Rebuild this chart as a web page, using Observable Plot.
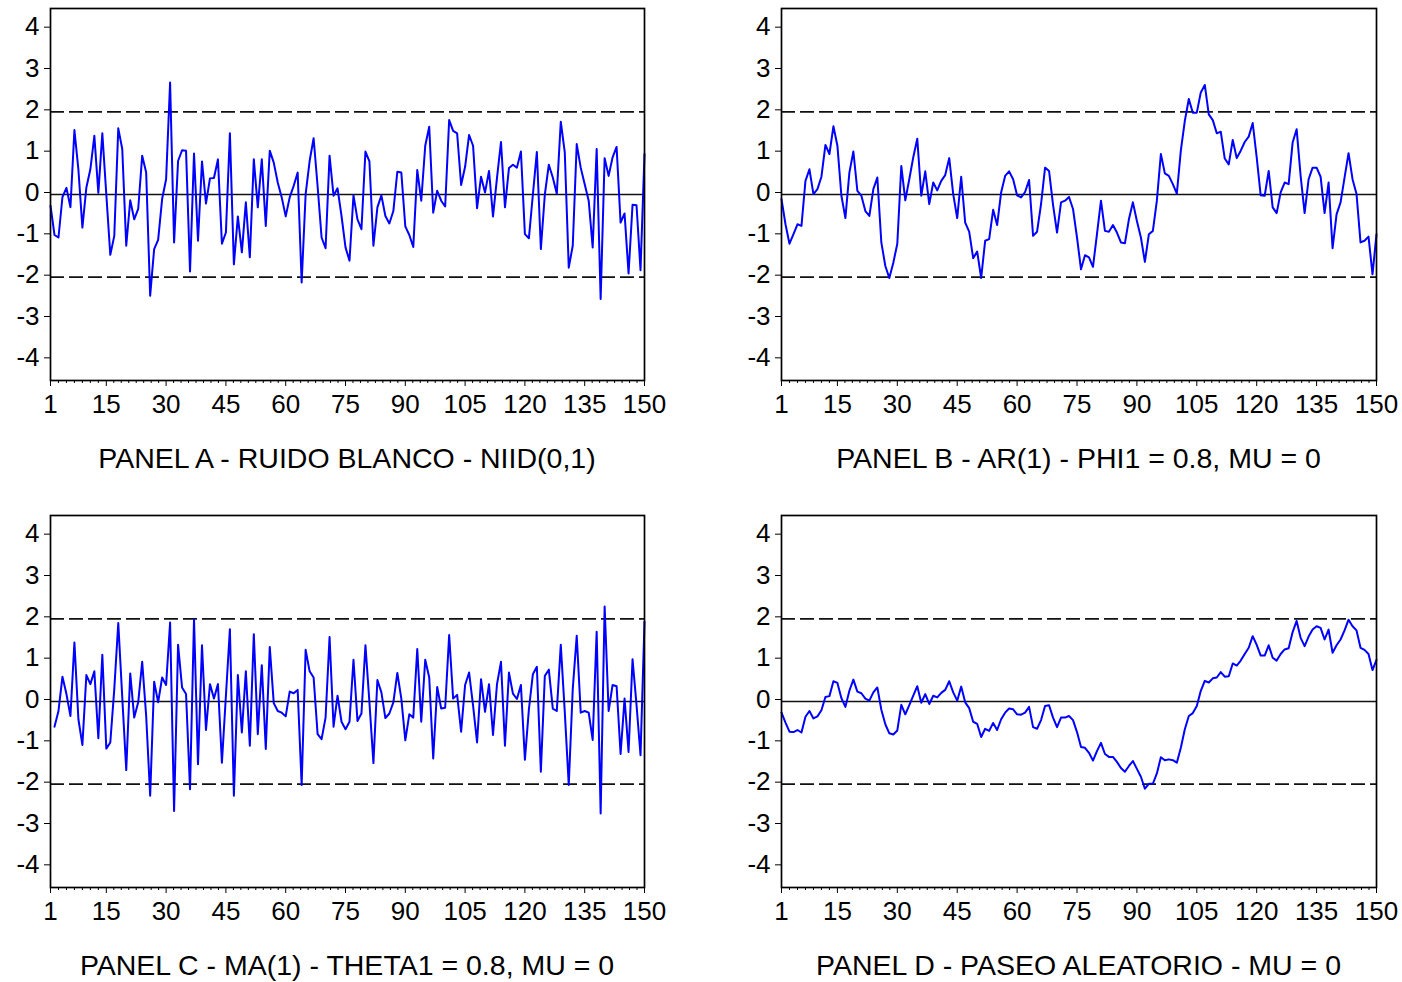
<!DOCTYPE html>
<html><head><meta charset="utf-8">
<script src="https://cdn.jsdelivr.net/npm/d3@7"></script>
<script src="https://cdn.jsdelivr.net/npm/@observablehq/plot@0.6"></script>
<style>
body{margin:0;background:#fff;}
#wrap{position:relative;width:1402px;height:982px;font-family:"Liberation Sans",Arial,sans-serif;background:#fff;}
.panel{position:absolute;}
.cap{position:absolute;text-align:center;font-size:28.5px;line-height:1;color:#000;white-space:nowrap;}
</style></head>
<body><div id="wrap"></div>
<script>
// ---- data ----
const titles = [
  "PANEL A - RUIDO BLANCO - NIID(0,1)",
  "PANEL B - AR(1) - PHI1 = 0.8, MU = 0",
  "PANEL C - MA(1) - THETA1 = 0.8, MU = 0",
  "PANEL D - PASEO ALEATORIO - MU = 0"
];
const xTicks = [1, 15, 30, 45, 60, 75, 90, 105, 120, 135, 150];
const yTicks = [-4, -3, -2, -1, 0, 1, 2, 3, 4];
const zeroLine = [0];
const bandLines = [-2, 2];

// Panel A, observations 1..150
const panelA = [
 -0.27,-0.98,-1.04,-0.06,0.16,-0.31,1.56,0.60,-0.80,0.17,
 0.61,1.42,0.04,1.48,0.00,-1.46,-1.00,1.60,1.10,-1.24,
 -0.14,-0.60,-0.35,0.94,0.53,-2.45,-1.32,-1.10,-0.11,0.37,
 2.71,-1.16,0.81,1.07,1.06,-1.86,0.99,-1.12,0.80,-0.22,
 0.39,0.40,0.85,-1.19,-0.92,1.48,-1.69,-0.53,-1.40,-0.19,
 -1.52,0.85,-0.31,0.85,-0.76,1.06,0.77,0.29,-0.07,-0.53,
 -0.07,0.21,0.53,-2.13,0.01,0.81,1.36,0.20,-1.04,-1.30,
 0.94,-0.03,0.15,-0.52,-1.28,-1.60,-0.02,-0.60,-0.84,1.04,
 0.80,-1.24,-0.31,-0.02,-0.52,-0.70,-0.40,0.55,0.53,-0.77,
 -0.98,-1.27,0.59,-0.15,1.18,1.64,-0.44,0.09,-0.15,-0.29,
 1.80,1.54,1.48,0.23,0.67,1.44,1.18,-0.33,0.43,0.05,
 0.57,-0.53,0.40,1.27,-0.31,0.64,0.72,0.65,1.04,-0.96,
 -1.06,0.00,1.03,-1.32,0.00,0.72,0.41,0.02,1.76,1.02,
 -1.77,-1.24,1.22,0.65,0.25,-0.15,-1.28,1.10,-2.53,0.88,
 0.45,0.90,1.15,-0.68,-0.46,-1.91,-0.25,-0.26,-1.83,0.98
];
// Panel B, observations 1..150
const panelB = [
 -0.11,-0.72,-1.19,-0.96,-0.72,-0.76,0.33,0.61,0.01,0.13,
 0.43,1.20,0.98,1.65,1.18,-0.03,-0.57,0.53,1.04,0.09,
 -0.03,-0.40,-0.52,0.13,0.41,-1.16,-1.73,-2.02,-1.65,-1.19,
 0.69,-0.14,0.37,0.90,1.35,-0.03,0.56,-0.23,0.29,0.10,
 0.33,0.47,0.88,0.01,-0.57,0.43,-0.68,-0.90,-1.54,-1.38,
 -2.02,-1.12,-1.08,-0.37,-0.74,0.05,0.45,0.56,0.37,-0.02,
 -0.07,0.06,0.35,-1.00,-0.90,-0.23,0.65,0.57,-0.25,-0.92,
 -0.19,-0.15,-0.06,-0.35,-1.04,-1.81,-1.47,-1.52,-1.75,-0.96,
 -0.15,-0.88,-0.90,-0.74,-0.92,-1.16,-1.18,-0.60,-0.19,-0.64,
 -1.04,-1.63,-0.96,-0.88,-0.15,0.98,0.51,0.45,0.25,0.02,
 1.06,1.78,2.31,1.98,1.98,2.47,2.65,1.94,1.80,1.48,
 1.52,0.87,0.73,1.32,0.88,1.06,1.27,1.40,1.73,0.90,
 -0.02,-0.03,0.57,-0.31,-0.45,0.05,0.29,0.25,1.26,1.58,
 0.45,-0.45,0.37,0.65,0.65,0.43,-0.45,0.29,-1.30,-0.48,
 -0.19,0.41,1.00,0.37,0.01,-1.16,-1.12,-1.02,-1.93,-0.96
];
// Panel C, observations 2..150 (observation 1 is missing)
const panelCFirstObs = 2;
const panelC = [
 -0.61,-0.23,0.60,0.18,-0.35,1.43,-0.43,-1.05,0.64,
 0.42,0.73,-0.89,1.13,-1.14,-0.99,0.30,1.90,0.10,-1.66,
 0.68,-0.39,-0.02,0.96,-0.35,-2.28,0.48,-0.02,0.58,0.40,
 1.91,-2.65,1.37,0.34,0.18,-2.12,1.99,-1.52,1.36,-0.69,
 0.42,0.07,0.42,-1.48,0.14,1.75,-2.28,0.64,-0.75,0.73,
 -1.07,1.63,-0.79,0.88,-1.15,1.32,-0.04,-0.23,-0.27,-0.36,
 0.24,0.20,0.28,-2.02,1.25,0.73,0.58,-0.79,-0.91,-0.39,
 1.56,-0.61,0.14,-0.49,-0.67,-0.49,1.01,-0.47,-0.29,1.36,
 -0.02,-1.49,0.52,0.22,-0.40,-0.29,-0.02,0.69,0.07,-0.94,
 -0.31,-0.39,1.27,-0.49,1.01,0.58,-1.38,0.35,-0.17,-0.15,
 1.61,0.07,0.16,-0.73,0.40,0.70,-0.10,-0.99,0.54,-0.25,
 0.42,-0.81,0.42,0.96,-1.07,0.70,0.19,0.06,0.40,-1.41,
 -0.19,0.66,0.84,-1.70,0.62,0.77,-0.17,-0.23,1.37,-0.25,
 -2.02,0.30,1.59,-0.27,-0.23,-0.27,-0.93,1.69,-2.71,2.30,
 -0.23,0.40,0.37,-1.27,0.07,-1.22,1.02,-0.08,-1.30,1.93
];
// Panel D, observations 1..150
const panelD = [
 -0.27,-0.51,-0.73,-0.74,-0.69,-0.75,-0.37,-0.23,-0.41,-0.36,
 -0.21,0.11,0.13,0.49,0.45,0.08,-0.13,0.26,0.53,0.24,
 0.20,0.07,0.02,0.22,0.34,-0.20,-0.55,-0.77,-0.80,-0.70,
 -0.08,-0.31,-0.09,0.14,0.37,-0.03,0.18,-0.06,0.14,0.10,
 0.21,0.28,0.49,0.22,0.02,0.36,-0.02,-0.16,-0.49,-0.54,
 -0.86,-0.66,-0.71,-0.52,-0.69,-0.43,-0.27,-0.17,-0.19,-0.31,
 -0.32,-0.27,-0.13,-0.62,-0.66,-0.45,-0.11,-0.09,-0.39,-0.62,
 -0.39,-0.39,-0.35,-0.45,-0.74,-1.10,-1.12,-1.24,-1.43,-1.20,
 -1.00,-1.27,-1.34,-1.34,-1.46,-1.61,-1.70,-1.56,-1.44,-1.63,
 -1.82,-2.11,-1.99,-1.99,-1.74,-1.35,-1.42,-1.40,-1.42,-1.48,
 -1.12,-0.67,-0.35,-0.28,-0.11,0.26,0.50,0.46,0.56,0.58,
 0.71,0.60,0.61,0.92,0.87,0.99,1.15,1.30,1.58,1.37,
 1.11,1.11,1.36,1.06,0.99,1.15,1.26,1.29,1.68,1.95,
 1.54,1.34,1.57,1.74,1.82,1.78,1.50,1.74,1.18,1.36,
 1.50,1.72,1.98,1.82,1.72,1.30,1.25,1.15,0.76,1.01
];

// minor tick positions on the observation axis
const minorTicks = [3, 5, 7, 9, 11, 13].concat(
  d3.range(15, 150, 1.875).filter(v => (v - 15) % 15 !== 0)
);

const FONT = '"Liberation Sans", Arial, sans-serif';

function makePanel(values, firstObs, ml, mr) {
  const data = values.map((v, k) => ({obs: firstObs + k, value: v}));
  return Plot.plot({
    width: 701, height: 430,
    marginLeft: ml, marginRight: mr, marginTop: 8, marginBottom: 50,
    x: {domain: [1, 150]},
    y: {domain: [-4.5, 4.5]},
    style: {fontFamily: FONT, fontSize: "26px", color: "#000", background: "#fff", overflow: "visible"},
    marks: [
      Plot.ruleY(zeroLine, {stroke: "#111", strokeWidth: 1.5}),
      Plot.ruleY(bandLines, {stroke: "#111", strokeWidth: 1.6, strokeDasharray: "14,5"}),
      Plot.line(data, {x: "obs", y: "value", stroke: "#0000ff", strokeWidth: 2}),
      Plot.frame({stroke: "#000", strokeWidth: 1.7}),
      Plot.axisY({ticks: yTicks, tickSize: 6, tickPadding: 5, tickFormat: d => String(d), label: null, dy: -2}),
      Plot.axisX({ticks: xTicks, tickSize: 6, tickPadding: 8, tickFormat: d => String(d), label: null}),
      Plot.axisX({ticks: minorTicks, tickSize: 3, tickFormat: () => "", label: null})
    ]
  });
}

const wrap = document.getElementById("wrap");
const specs = [
  {vals: panelA, first: 1, ml: 50, mr: 57, left: 0, top: 0},
  {vals: panelB, first: 1, ml: 80, mr: 26, left: 701, top: 0},
  {vals: panelC, first: panelCFirstObs, ml: 50, mr: 57, left: 0, top: 507},
  {vals: panelD, first: 1, ml: 80, mr: 26, left: 701, top: 507}
];
specs.forEach((s, i) => {
  const box = document.createElement("div");
  box.className = "panel";
  box.style.left = s.left + "px";
  box.style.top = s.top + "px";
  box.appendChild(makePanel(s.vals, s.first, s.ml, s.mr));
  wrap.appendChild(box);
  const cap = document.createElement("div");
  cap.className = "cap";
  cap.textContent = titles[i];
  cap.style.left = (s.left + s.ml) + "px";
  cap.style.width = (701 - s.ml - s.mr) + "px";
  cap.style.top = (s.top + 444) + "px";
  wrap.appendChild(cap);
});
</script>
</body></html>
